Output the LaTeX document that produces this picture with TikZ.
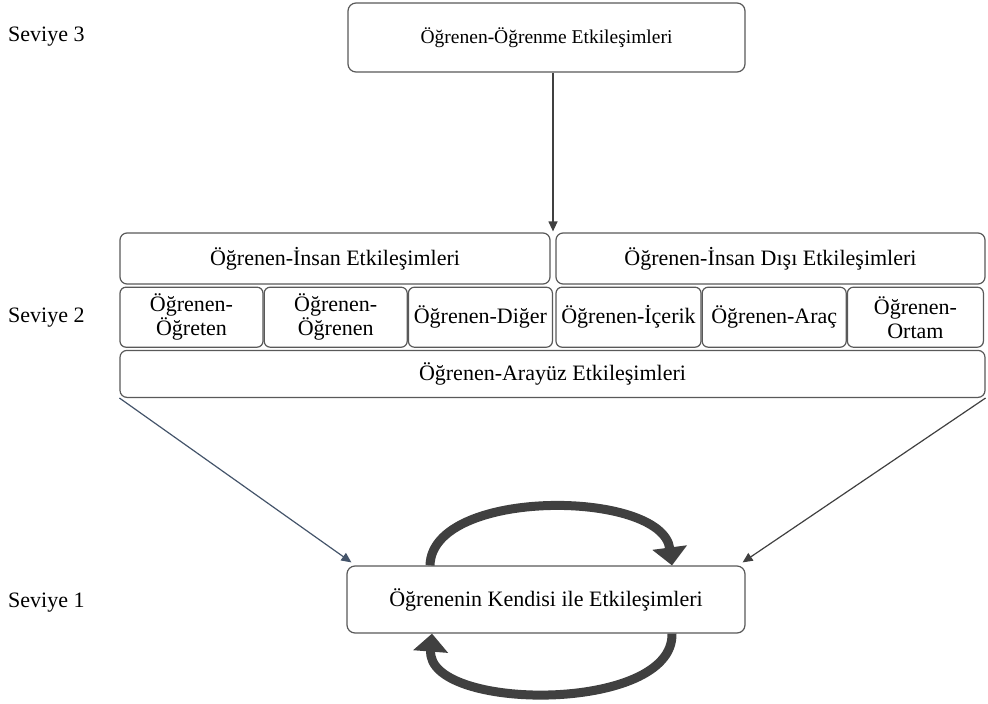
\documentclass[tikz,border=0pt]{standalone}
\usepackage{fontspec}
\setmainfont{Liberation Serif}
\usepackage{xcolor}
\usetikzlibrary{arrows.meta, positioning, calc}
\definecolor{linegray}{HTML}{595959}
\definecolor{arrowgray}{HTML}{404040}
\definecolor{slateblue}{HTML}{44546A}

\begin{document}
\begin{tikzpicture}[x=1pt, y=-1pt,
    font=\fontsize{22}{24}\selectfont,
    box/.style={rectangle, draw=linegray, line width=1.2pt, fill=white, align=center, rounded corners=8pt, inner sep=2pt},
    groupbox/.style={box, minimum height=51pt, rounded corners=7pt},
    subbox/.style={box, minimum height=60pt, rounded corners=6pt},
    level/.style={anchor=west, inner sep=0pt},
    arrow/.style={-{Triangle[length=10pt, width=9pt]}, line width=1.2pt},
    cyclearrow/.style={-{Triangle[length=18pt, width=34pt]}, line width=9pt, draw=arrowgray}
]

\useasboundingbox (0,0) rectangle (988,704);

% levels
\node (lvl3) [level] at (8,37) {Seviye 3};
\node (lvl2) [level] at (8,318) {Seviye 2};
\node (lvl1) [level] at (8,603) {Seviye 1};

% level 3
\node (learn) [box, minimum width=397pt, minimum height=69pt, font=\fontsize{19.5}{22}\selectfont] at (546.5,37.5) {Öğrenen-Öğrenme Etkileşimleri};

% level 2
\node (human) [groupbox, minimum width=430pt] at (335,258.5) {Öğrenen-İnsan Etkileşimleri};
\node (nonhuman) [groupbox, minimum width=429pt] at (770.5,258.5) {Öğrenen-İnsan Dışı Etkileşimleri};

\node (teacher) [subbox, minimum width=143pt, below=2pt of human.south west, anchor=north west] {Öğrenen-\\Öğreten};
\node (peer) [subbox, minimum width=143pt, right=0pt of teacher] {Öğrenen-\\Öğrenen};
\node (other) [subbox, minimum width=144pt, right=0pt of peer] {Öğrenen-Diğer};
\node (content) [subbox, minimum width=145pt, below=2pt of nonhuman.south west, anchor=north west] {Öğrenen-İçerik};
\node (tool) [subbox, minimum width=144pt, right=0pt of content] {Öğrenen-Araç};
\node (setting) [subbox, minimum width=136pt, right=0pt of tool] {Öğrenen-\\Ortam};

\node (interface) [box, minimum width=865pt, minimum height=47pt, rounded corners=7pt, below=2pt of teacher.south west, anchor=north west] {Öğrenen-Arayüz Etkileşimleri};

% level 1
\node (self) [box, minimum width=398pt, minimum height=67pt] at (546,599.5) {Öğrenenin Kendisi ile Etkileşimleri};

\coordinate (gap) at ($(human.north east)!0.5!(nonhuman.north west)$);
\draw [arrow, draw=arrowgray] (learn.south -| gap) -- ([yshift=1pt]gap);
\draw [arrow, draw=slateblue] (interface.south west) -- ([shift={(5pt,3pt)}]self.north west);
\draw [arrow, draw=arrowgray] (interface.south east) -- ([shift={(-3pt,3pt)}]self.north east);

% self loops
\draw [cyclearrow] ([xshift=-116pt]self.north) .. controls +(2,-78) and +(-10,-76) .. ([xshift=126pt]self.north);
\draw [cyclearrow] ([xshift=126pt]self.south) .. controls +(2,80) and +(-6,78) .. ([xshift=-114pt]self.south);

\end{tikzpicture}
\end{document}
